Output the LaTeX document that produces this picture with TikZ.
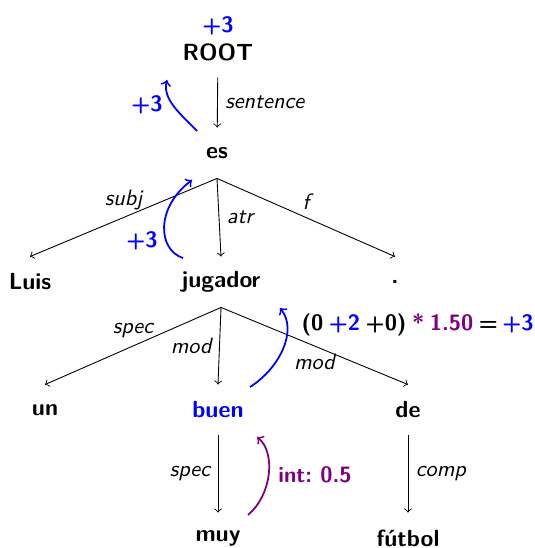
\documentclass[tikz,border=0pt]{standalone}
\usepackage{tikz}
\usetikzlibrary{arrows,calc}
\definecolor{intviolet}{RGB}{128,0,128}

\begin{document}
\begin{tikzpicture}[x=0.45pt,y=-0.45pt]
\tikzset{word/.style={font=\fontsize{10.5}{12}\sffamily\bfseries,minimum height=22.5pt,inner sep=3pt},
  lbl/.style={font=\sffamily\itshape},
  dep/.style={->},
  score/.style={blue,font=\sffamily\bfseries,inner sep=1pt},
  boost/.style={blue,thick,->},
  inten/.style={intviolet,thick,->}}
\useasboundingbox (0,0) rectangle (535,548);

\node[word] (root) at (218,52) {ROOT};
\node[word] (es) at (217,153) {es};
\node[word] (luis) at (30,282) {Luis};
\node[word] (jugador) at (221,282) {jugador};
\node[word] (punto) at (395,282) {.};
\node[word] (un) at (45,410) {un};
\node[word,blue] (buen) at (218,410) {buen};
\node[word] (de) at (408,410) {de};
\node[word] (muy) at (218,538) {muy};
\node[word] (futbol) at (408,538) {fútbol};

\draw[dep] (root) -- node[lbl,right] {sentence} (es);
\draw[dep] (es.south) -- node[lbl,above] {subj} (luis.north);
\draw[dep] (es.south) -- node[lbl,right] {atr} (jugador.north);
\draw[dep] (es.south) -- node[lbl,above] {f} (punto.north);
\draw[dep] (jugador.south) -- node[lbl,above] {spec} (un.north);
\draw[dep] (jugador.south) -- node[lbl,left] {mod} (buen.north);
\draw[dep] (jugador.south) -- node[lbl,below] {mod} (de.north);
\draw[dep] (buen) -- node[lbl,left] {spec} (muy);
\draw[dep] (de) -- node[lbl,right] {comp} (futbol);

\node[score] (root-score) at (218,26) {+3};
\draw[boost] ([shift={(-20,-22)}]es.center) .. controls (182,115) and (162,100) .. ([shift={(-51,28)}]root.center);
\node[score] (es-score) at (147,105) {+3};
\draw[boost] ([shift={(-38,-24)}]jugador.center) .. controls (158,250) and (155,208) .. ([shift={(-25,27)}]es.center);
\node[score] (jugador-score) at (142,241) {+3};
\draw[boost] ([shift={(32,-23)}]buen.center) .. controls (280,368) and (298,330) .. ([shift={(59,26)}]jugador.center);
\node[score,black,anchor=east,inner sep=0pt] (buen-score) at (534,325) {(0\hspace{.25em}\textcolor{blue}{+2}\hspace{.25em}+0)\hspace{.25em}\textcolor{intviolet}{*\hspace{.25em}1.50}\hspace{.25em}=\hspace{.2em}\textcolor{blue}{+3}};
\draw[inten] ([shift={(30,-23)}]muy.center) .. controls (272,495) and (276,452) .. ([shift={(39,27)}]buen.center);
\node[score,intviolet] (muy-score) at (315,475) {int:\ 0.5};

\end{tikzpicture}
\end{document}
